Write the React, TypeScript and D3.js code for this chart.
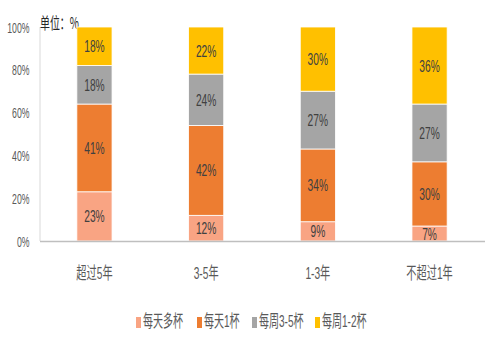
import React from "react";
import * as d3 from "d3";

const categories = ["超过5年", "3-5年", "1-3年", "不超过1年"];
const seriesNames = ["每天多杯", "每天1杯", "每周3-5杯", "每周1-2杯"];
const dailyMany = [23, 12, 9, 7];
const dailyOne = [41, 42, 34, 30];
const weekly35 = [18, 24, 27, 27];
const weekly12 = [18, 22, 30, 36];
const yTicks = [0, 20, 40, 60, 80, 100];
const colors = ["#F9A483", "#ED7D31", "#A5A5A5", "#FFC000"];

const W = 498, H = 358;
const FONT = "'Liberation Sans', 'Noto Sans CJK SC', sans-serif";

export default function App() {
  const series = [dailyMany, dailyOne, weekly35, weekly12];
  const x = d3.scaleBand<string>().domain(categories).range([38.6, 485.4]).paddingInner(0.685).paddingOuter(0.3425);
  const y = d3.scaleLinear().domain([0, 100]).range([241, 27]);
  const rows = categories.map((c, i) => {
    const o: any = { cat: c };
    seriesNames.forEach((s, k) => (o[s] = series[k][i]));
    return o;
  });
  const stacked = d3.stack<any>().keys(seriesNames)(rows);
  const legendX = [136, 197, 252, 315];
  return (
    <svg width={W} height={H} style={{ position: "absolute", left: 0, top: 0, background: "#fff" }}>
      <line x1={40} x2={40} y1={27} y2={241} stroke="#D9D9D9" strokeWidth={1} />
      {yTicks.map((t) => (
        <text key={t} transform={`translate(29.5,${y(t) + 5.5}) scale(0.58,1)`} textAnchor="end" fontSize={15} fill="#595959" fontFamily={FONT}>
          {t}%
        </text>
      ))}
      <text transform="translate(40,28.5) scale(0.62,1)" fontSize={16} fill="#262626" fontFamily="'Noto Sans CJK SC', sans-serif">单位：%</text>
      {stacked.map((layer, k) => (
        <g key={k}>
          {layer.map((d, i) => {
            const x0 = x(categories[i])!;
            const bw = x.bandwidth();
            const yt = y(d[1]), yb = y(d[0]);
            return (
              <g key={i}>
                <rect x={x0} y={yt} width={bw} height={yb - yt} fill={colors[k]} stroke="#fff" strokeWidth={0.8} />
                <text transform={`translate(${x0 + bw / 2},${(yt + yb) / 2 + 6}) scale(0.62,1)`} textAnchor="middle" fontSize={16.5} fill="#404040" fontFamily={FONT}>
                  {series[k][i]}%
                </text>
              </g>
            );
          })}
        </g>
      ))}
      <line x1={40} x2={485} y1={241.5} y2={241.5} stroke="#BFBFBF" strokeWidth={1.5} />
      {categories.map((c) => (
        <text key={c} transform={`translate(${x(c)! + x.bandwidth() / 2},279) scale(0.6,1)`} textAnchor="middle" fontSize={17} fill="#595959" fontFamily={FONT}>
          {c}
        </text>
      ))}
      {seriesNames.map((s, k) => {
        const lx = legendX[k];
        return (
          <g key={s}>
            <rect x={lx} y={317} width={5} height={11} fill={colors[k]} />
            <text transform={`translate(${lx + 7},327) scale(0.59,1)`} fontSize={17} fill="#595959" fontFamily={FONT}>
              {s}
            </text>
          </g>
        );
      })}
    </svg>
  );
}
